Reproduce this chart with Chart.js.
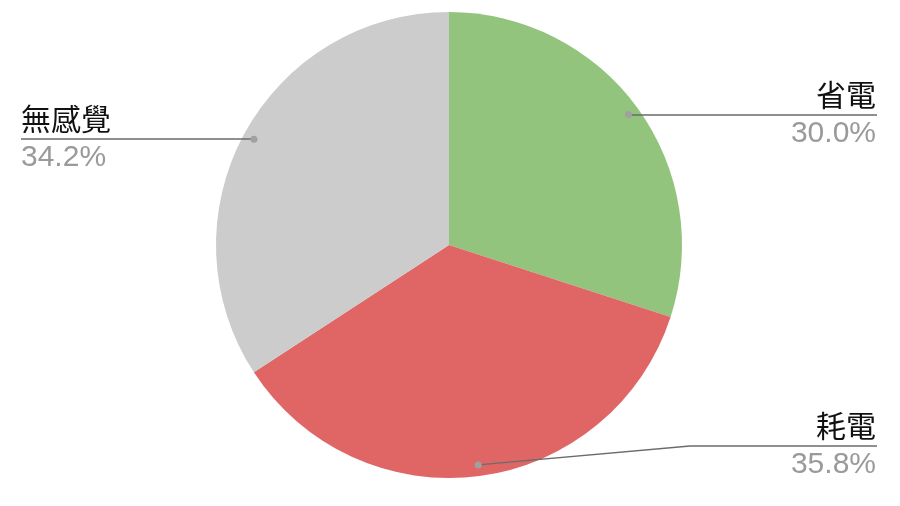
<!DOCTYPE html>
<html lang="zh-Hant">
<head>
    <meta charset="UTF-8">
    <title>省電 / 耗電 / 無感覺</title>
    <script src="https://cdn.jsdelivr.net/npm/chart.js"></script>
    <style>
        html, body { margin: 0; padding: 0; background: #fff; }
        #wrap { width: 900px; height: 506px; }
    </style>
</head>
<body>
    <div id="wrap">
        <canvas id="pieChart" width="900" height="506"></canvas>
    </div>

    <script>
        // données
        const labels = ['省電', '耗電', '無感覺'];
        const values = [30.0, 35.8, 34.2];
        const colors = ['#93c47d', '#e06666', '#cccccc'];

        // étiquettes avec traits de rappel
        const leaderLabels = {
            id: 'leaderLabels',
            afterDraw(chart, args, opts) {
                const ctx = chart.ctx;
                const meta = chart.getDatasetMeta(0);
                const total = values.reduce((a, b) => a + b, 0);
                meta.data.forEach((arc, i) => {
                    const p = arc.getProps(['x', 'y', 'startAngle', 'endAngle', 'outerRadius'], true);
                    const mid = (p.startAngle + p.endAngle) / 2;
                    const r = p.outerRadius * 0.952;
                    const dx = p.x + Math.cos(mid) * r;
                    const dy = p.y + Math.sin(mid) * r;
                    const right = Math.cos(mid) >= 0;
                    const ly = opts.lineY[i];
                    const endX = right ? opts.rightX : opts.leftX;

                    ctx.save();
                    ctx.strokeStyle = '#6b6b6b';
                    ctx.lineWidth = 1.3;
                    ctx.beginPath();
                    ctx.moveTo(dx, dy);
                    if (opts.elbowX[i] != null) {
                        ctx.lineTo(opts.elbowX[i], ly);
                    } else {
                        ctx.lineTo(dx, ly);
                    }
                    ctx.lineTo(endX, ly);
                    ctx.stroke();

                    ctx.fillStyle = '#a0a0a0';
                    ctx.beginPath();
                    ctx.arc(dx, dy, 3.5, 0, Math.PI * 2);
                    ctx.fill();

                    ctx.textAlign = right ? 'right' : 'left';
                    const tx = right ? endX - 1 : endX;
                    ctx.textBaseline = 'alphabetic';
                    ctx.fillStyle = '#111111';
                    ctx.font = '30px "Noto Sans CJK TC", sans-serif';
                    ctx.fillText(labels[i], tx, ly - 9);

                    ctx.fillStyle = '#9a9a9a';
                    ctx.font = '30px "Liberation Sans", Arial, sans-serif';
                    const pct = (values[i] / total * 100).toFixed(1) + '%';
                    ctx.fillText(pct, tx, ly + 27);
                    ctx.restore();
                });
            }
        };

        const ctx = document.getElementById('pieChart').getContext('2d');
        new Chart(ctx, {
            type: 'pie',
            data: {
                labels: labels,
                datasets: [{
                    data: values,
                    backgroundColor: colors,
                    borderWidth: 0
                }]
            },
            options: {
                responsive: false,
                animation: false,
                layout: {
                    padding: { top: 12, bottom: 28, left: 0, right: 2 }
                },
                plugins: {
                    legend: { display: false },
                    tooltip: { enabled: false },
                    leaderLabels: {
                        lineY: [115, 446, 139],
                        elbowX: [null, 690, null],
                        rightX: 877,
                        leftX: 21
                    }
                }
            },
            plugins: [leaderLabels]
        });
    </script>
</body>
</html>
